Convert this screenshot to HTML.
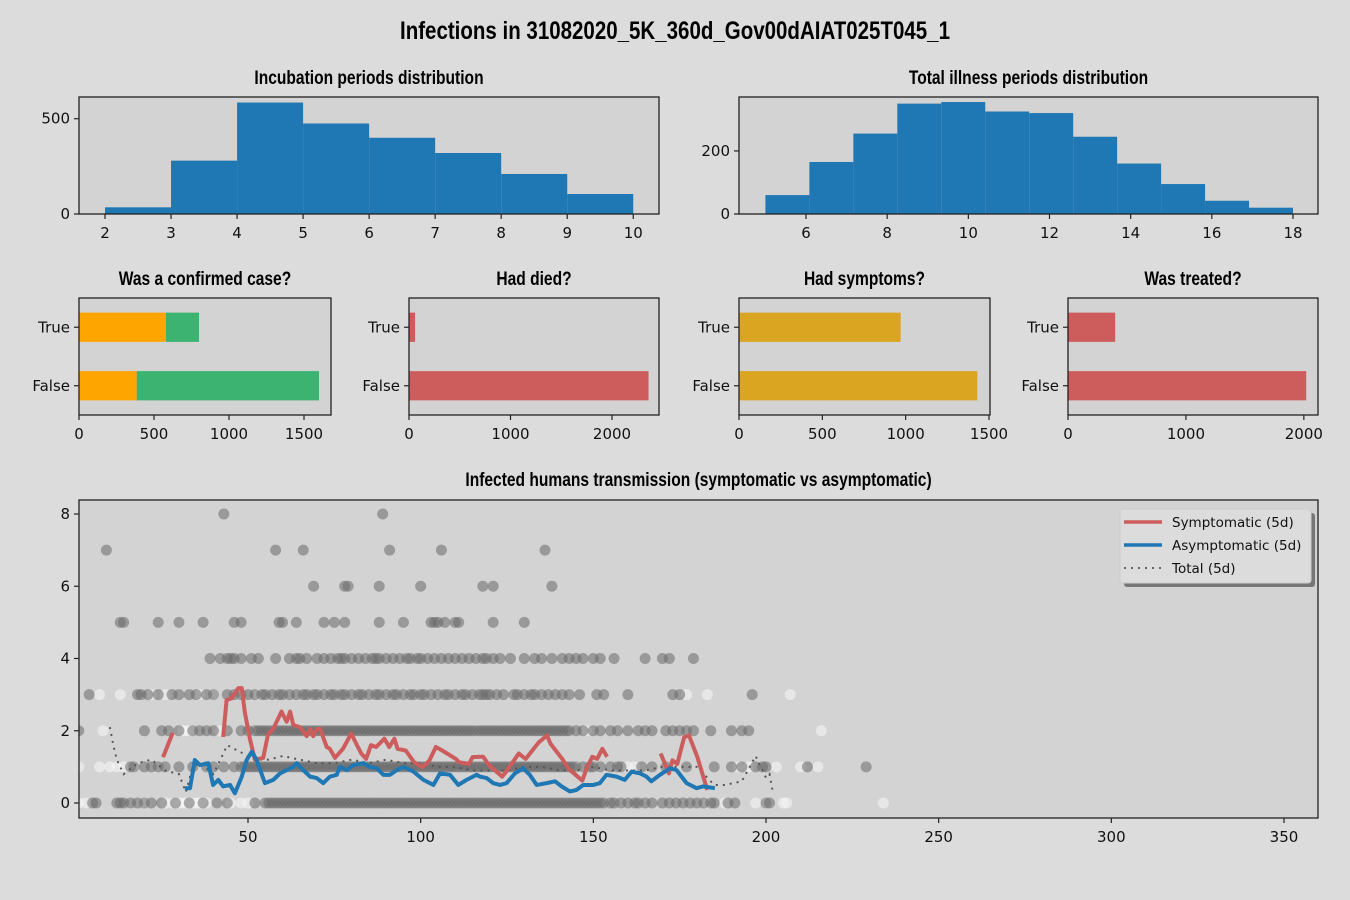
<!DOCTYPE html>
<html><head><meta charset="utf-8"><style>
body{margin:0;background:#dcdcdc;}
svg{display:block;font-family:"DejaVu Sans","Liberation Sans",sans-serif;}
.t{font-family:"Liberation Sans Narrow","Liberation Sans",sans-serif;font-weight:bold;}
</style></head><body>
<svg id="fig" width="1350" height="900" viewBox="0 0 1350 900" xmlns="http://www.w3.org/2000/svg">
<rect width="1350" height="900" fill="#dcdcdc"/>
<text class="t" x="675" y="39" text-anchor="middle" font-size="25" transform="translate(675,0) scale(0.82,1) translate(-675,0)">Infections in 31082020_5K_360d_Gov00dAIAT025T045_1</text>
</svg>
<script>
// ---- data ----
const incBins=[2,3,4,5,6,7,8,9,10];
const incCounts=[35,280,585,475,400,320,210,105];
const illStart=5, illEnd=18;
const illCounts=[60,165,255,350,355,325,320,245,160,95,42,20];
const cats=["False","True"];
const confOrange=[385,580];
const confGreen=[1215,220];
const diedVals=[2360,60];
const sympVals=[1430,970];
const treatVals=[2020,400];
const symDays=[[25.4,28.2],[42.8,43.8,45.3,47.2,48.2,49.1,50.6,52,54.4,55.8,57.3,59.7,61.2,62.2,63.1,65,67,68,68.9,69.9,70.9,72.8,73.7,75.2,77.5,79.9,81.3,82.8,84.2,85.6,87.1,89.5,90.9,92.4,93.3,95.7,98.1,100.5,102.5,104.4,106.3,110.2,111.1,114,115,117.2,118.1,119.8,123.6,125,128.4,130.4,132.3,134.2,136.6,137.6,141,142.9,146.8,148.2,149.7,151.1,152.6,154],[169.5,171.9,172.9,174.3,176.3,177.7,180.1,183]];
const symVals=[[1.27,1.94],[1.83,2.85,2.9,3.18,3.18,2.5,1.75,1.2,1.25,1.9,2.05,2.53,2.25,2.53,2.16,2.1,1.85,2.05,1.85,2.05,2.05,1.55,1.5,1.25,1.5,1.92,1.65,1.37,1.22,1.6,1.55,1.78,1.55,1.78,1.5,1.45,1.13,0.99,1.17,1.55,1.45,1.22,1.13,1.08,1.27,1.28,1.28,1.05,0.73,0.9,1.37,1.22,1.45,1.68,1.87,1.64,1.22,0.94,0.62,0.99,1.28,1.22,1.5,1.28],[1.37,0.82,1.18,1.08,1.82,1.87,1.28,0.36]];
const asyDays=[31.7,33.2,34.6,36.1,38.5,39.9,41.4,42.8,44.8,46.2,48.2,49.6,51.1,52.5,54.9,57.3,59.3,61.2,63.1,64.1,66,68,69.9,71.8,73.7,75.7,76.6,78.6,80.5,83.4,85.3,87.3,89.2,91.1,93.1,95,97.9,100.8,103.7,105.6,108.5,110.9,113.3,116.2,117.2,119.1,121,123,124.9,127.3,129.7,131.6,133.6,136.5,138.9,140.8,143.2,145.1,147.1,150,151.9,153.8,156.7,159.1,161.1,163.5,165.4,166.8,169.3,172.2,174.1,177,179.9,181.8,185.2];
const asyVals=[0.41,0.41,1.19,1.05,1.1,0.5,0.64,0.46,0.5,0.27,0.73,1.19,1.42,1.19,0.55,0.64,0.82,0.91,1.0,1.1,0.91,0.73,0.69,0.55,0.73,0.78,1.0,0.91,1.05,1.1,1.0,0.96,0.78,0.78,0.91,1.0,0.87,0.64,0.5,0.82,0.78,0.5,0.64,0.78,0.73,0.69,0.55,0.5,0.55,0.82,0.96,0.78,0.5,0.55,0.6,0.46,0.32,0.36,0.5,0.5,0.55,0.78,0.73,0.64,0.87,0.82,0.73,0.6,0.78,0.96,0.91,0.55,0.41,0.46,0.41];
const totDays=[10,11,12,13,14,18,22,26,30,32,34,36,40,44,48,52,56,60,65,70,75,80,85,90,95,100,105,110,115,120,125,130,135,140,145,150,155,160,165,170,175,180,185,188,193,197,199,200,201,202];
const totVals=[2.1,1.6,1.2,1.0,0.8,1.1,1.2,0.9,0.8,0.3,1.0,1.1,0.8,1.6,1.4,1.2,1.2,1.3,1.2,1.1,1.1,1.2,1.1,1.2,1.1,1.1,1.0,1.0,0.9,0.9,0.9,1.0,1.0,0.9,0.9,1.0,0.9,0.9,0.9,1.0,1.0,1.0,0.5,0.5,0.6,1.3,0.9,0.7,0.8,0.3];
const levels=[0,1,2,3,4,5,6,7,8];
const grayPts=[
[5,6,12,13,14,16,18,20,22,25,29,33,37,41,44,52,55,56,57,58,59,60,61,62,63,64,65,66,67,68,69,70,71,72,73,74,75,76,77,78,79,80,81,82,83,84,85,86,87,88,89,90,91,92,93,94,95,96,97,98,99,100,101,102,103,104,105,106,107,108,109,110,111,112,113,114,115,116,117,118,119,120,121,122,123,124,125,126,127,128,129,130,131,132,133,134,135,136,137,138,139,140,141,142,143,144,145,146,147,148,149,150,151,152,153,155,156,158,160,162,163,165,167,170,172,174,176,178,180,182,184,185,189,191,200,201],
[16,17,20,22,24,26,30,34,38,40,43,46,48,49,50,51,52,53,54,55,56,57,58,59,60,61,62,63,64,65,66,67,68,69,70,71,72,73,74,75,76,77,78,79,80,81,82,83,84,85,86,87,88,89,90,91,92,93,94,95,96,97,98,99,100,101,102,103,104,105,106,107,108,109,110,111,112,113,114,115,116,117,118,119,120,121,122,123,124,125,126,127,128,129,130,131,132,133,134,135,136,137,138,139,140,141,142,143,144,145,147,149,150,152,155,157,158,164,167,171,177,185,190,193,197,199,200,212,229],
[1,20,25,27,30,34,36,38,40,44,48,50,52,53,54,55,56,57,58,59,60,61,62,63,64,65,66,67,68,69,70,71,72,73,74,75,76,77,78,79,80,81,82,83,84,85,86,87,88,89,90,91,92,93,94,95,96,97,98,99,100,101,102,103,104,105,106,107,108,109,110,111,112,113,114,115,116,117,118,119,120,121,122,123,124,125,126,127,128,129,130,131,132,133,134,135,136,137,138,139,140,141,142,143,145,147,150,152,155,157,160,163,165,167,171,173,175,177,179,184,190,193,195],
[4,18,19,21,24,28,30,33,35,38,40,44,46,48,50,52,54,55,57,59,60,62,64,66,67,69,70,72,74,75,77,78,80,82,83,85,87,88,90,92,93,95,97,98,100,101,103,105,107,108,110,112,113,115,117,118,119,120,122,124,127,128,130,132,133,135,137,139,141,143,146,151,153,160,173,175,196],
[39,42,44,45,46,48,51,53,58,62,64,65,67,70,72,74,76,77,78,80,82,84,86,87,88,90,92,94,96,97,99,100,102,104,106,108,110,112,114,116,118,119,121,123,126,130,133,135,138,141,143,145,147,150,152,156,165,170,172,179],
[13,14,24,30,37,46,48,59,60,64,72,75,78,88,95,103,104,105,107,110,111,121,130],
[69,78,79,88,100,118,121,138],
[9,58,66,91,106,136],
[43,89]];
const whitePts=[
[1,3,20,26,28,29,30,31,32,33,34,35,36,37,38,45,48,50,183,188,197,200,205,206,234],
[1,7,10,12,14,17,145,160,162,192,195,203,210,215],
[8,31,32,33,34,42,57,116,148,216],
[7,13,22,26,36,40,53,177,183,207],
[],[],[],[],[]];
const xTicksB=[50,100,150,200,250,300,350];
const yTicksB=[0,2,4,6,8];

// ---- helpers ----
const NS="http://www.w3.org/2000/svg";
const fig=document.getElementById('fig');
function mk(tag,attrs,parent){const e=document.createElementNS(NS,tag);for(const k in attrs)e.setAttribute(k,attrs[k]);(parent||fig).appendChild(e);return e;}
function lin(d0,d1,r0,r1){return v=>r0+(v-d0)*(r1-r0)/(d1-d0);}
function axesBox(x0,y0,x1,y1,name){const r=mk('rect',{x:x0,y:y0,width:x1-x0,height:y1-y0,fill:'#d3d3d3'});


return r;}
function frame(x0,y0,x1,y1){mk('rect',{x:x0,y:y0,width:x1-x0,height:y1-y0,fill:'none',stroke:'#222','stroke-width':1.3});}
function xtick(x,y,label,name){mk('line',{x1:x,x2:x,y1:y,y2:y+5,stroke:'#222','stroke-width':1.2});
const t=mk('text',{x:x,y:y+24,'text-anchor':'middle','font-size':15,fill:'#111'});t.textContent=label;

}
function ytick(x,y,label,name){mk('line',{x1:x-5,x2:x,y1:y,y2:y,stroke:'#222','stroke-width':1.2});
const t=mk('text',{x:x-9,y:y+5,'text-anchor':'end','font-size':15,fill:'#111'});t.textContent=label;

}
function title(x,y,s,name){const t=mk('text',{x:x,y:y,'text-anchor':'middle','font-size':19,class:'t',transform:`translate(${x},0) scale(0.82,1) translate(${-x},0)`});t.textContent=s;

}

// ---- incubation hist ----
{const X0=79,X1=659,Y0=97,Y1=214;axesBox(X0,Y0,X1,Y1,'incubation-axes');
const sx=lin(1.606,10.39,X0,X1), sy=lin(0,614,Y1,Y0);
incCounts.forEach((c,i)=>{const r=mk('rect',{x:sx(incBins[i]),y:sy(c),width:sx(incBins[i+1])-sx(incBins[i]),height:Y1-sy(c),fill:'#1f77b4'});

});
frame(X0,Y0,X1,Y1);
incBins.forEach(v=>xtick(sx(v),Y1,String(v),'incubation-x-tick'));
[0,500].forEach(v=>ytick(X0,sy(v),String(v),'incubation-y-tick'));
title((X0+X1)/2,84,'Incubation periods distribution','incubation-title');}

// ---- illness hist ----
{const X0=739,X1=1318,Y0=97,Y1=214;axesBox(X0,Y0,X1,Y1,'illness-axes');
const sx=lin(6,18,806,1293), sy=lin(0,371,Y1,Y0);const w=(illEnd-illStart)/illCounts.length;
illCounts.forEach((c,i)=>{const a=illStart+i*w;const r=mk('rect',{x:sx(a),y:sy(c),width:sx(a+w)-sx(a),height:Y1-sy(c),fill:'#1f77b4'});

});
frame(X0,Y0,X1,Y1);
[6,8,10,12,14,16,18].forEach(v=>xtick(sx(v),Y1,String(v),'illness-x-tick'));
[0,200].forEach(v=>ytick(X0,sy(v),String(v),'illness-y-tick'));
title((X0+X1)/2,84,'Total illness periods distribution','illness-title');}

// ---- bar charts ----
function barChart(X0,X1,xmax,ticks,stacks,colors,ttl,name){const Y0=298,Y1=415;axesBox(X0,Y0,X1,Y1,name+'-axes');
const sx=lin(0,xmax,X0,X1), sy=lin(-0.5,1.5,Y1,Y0);
cats.forEach((c,i)=>{let acc=0;stacks.forEach((s,k)=>{const v=s[i];const r=mk('rect',{x:sx(acc),y:sy(i+0.25),width:sx(acc+v)-sx(acc),height:sy(i-0.25)-sy(i+0.25),fill:colors[k]});

acc+=v;});
ytick(X0,sy(i),c,name+'-y-label');});
frame(X0,Y0,X1,Y1);
ticks.forEach(v=>xtick(sx(v),Y1,String(v),name+'-x-tick'));
title((X0+X1)/2,285,ttl,name+'-title');}
barChart(79,331,1680,[0,500,1000,1500],[confOrange,confGreen],['#ffa500','#3cb371'],'Was a confirmed case?','confirmed');
barChart(409,659,2463,[0,1000,2000],[diedVals],['#cd5c5c'],'Had died?','died');
barChart(739,990,1506,[0,500,1000,1500],[sympVals],['#daa520'],'Had symptoms?','symptoms');
barChart(1068,1318,2120,[0,1000,2000],[treatVals],['#cd5c5c'],'Was treated?','treated');

// ---- transmission scatter ----
{const X0=79,X1=1318,Y0=500,Y1=818;axesBox(X0,Y0,X1,Y1,'transmission-axes');
const sx=lin(50,350,248,1284), sy=lin(0,8,803,514);
const cp=mk('clipPath',{id:'cp'});mk('rect',{x:X0,y:Y0,width:X1-X0,height:Y1-Y0},cp);
const g=mk('g',{'clip-path':'url(#cp)'});
levels.forEach((lv,i)=>{whitePts[i].forEach(d=>{const c=mk('circle',{cx:sx(d),cy:sy(lv),r:5.5,fill:'#f5f5f5','fill-opacity':0.6},g);

});
grayPts[i].forEach(d=>{const c=mk('circle',{cx:sx(d),cy:sy(lv),r:5.5,fill:'#696969','fill-opacity':0.55},g);

});});
const tl=mk('polyline',{points:totDays.map((d,i)=>sx(d)+','+sy(totVals[i])).join(' '),fill:'none',stroke:'#555','stroke-width':2,'stroke-dasharray':'2,5'},g);


symDays.forEach((seg,k)=>{const p=mk('polyline',{points:seg.map((d,i)=>sx(d)+','+sy(symVals[k][i])).join(' '),fill:'none',stroke:'#cd5c5c','stroke-width':4,'stroke-linejoin':'round'},g);

});
const al=mk('polyline',{points:asyDays.map((d,i)=>sx(d)+','+sy(asyVals[i])).join(' '),fill:'none',stroke:'#1f77b4','stroke-width':4,'stroke-linejoin':'round'},g);


frame(X0,Y0,X1,Y1);
xTicksB.forEach(v=>xtick(sx(v),Y1,String(v),'transmission-x-tick'));
yTicksB.forEach(v=>ytick(X0,sy(v),String(v),'transmission-y-tick'));
title((X0+X1)/2,486,'Infected humans transmission (symptomatic vs asymptomatic)','transmission-title');
// legend
const lg=mk('g',{});
mk('rect',{x:1124,y:513,width:191,height:74,rx:3,fill:'#777'},lg);
mk('rect',{x:1120,y:509,width:191,height:74,rx:3,fill:'#dcdcdc',stroke:'#ccc'},lg);
const ent=[['Symptomatic (5d)','#cd5c5c',''],['Asymptomatic (5d)','#1f77b4',''],['Total (5d)','#666','2,5']];
ent.forEach((e,i)=>{const y=522+i*23;mk('line',{x1:1124,x2:1162,y1:y,y2:y,stroke:e[1],'stroke-width':e[2]?2:3.5,'stroke-dasharray':e[2]},lg);
const t=mk('text',{x:1172,y:y+5,'font-size':13.5,fill:'#111'},lg);t.textContent=e[0];

});}
</script>
</body></html>
